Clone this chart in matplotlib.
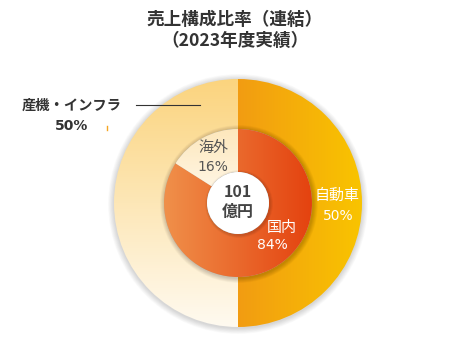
import numpy as np
import matplotlib.pyplot as plt
from matplotlib.patches import Wedge, Circle
from matplotlib.colors import LinearSegmentedColormap

plt.rcParams['font.family'] = ['Noto Sans CJK JP', 'DejaVu Sans']

# Data
title_lines = ['売上構成比率（連結）', '（2023年度実績）']
outer_labels = ['自動車', '産機・インフラ']
outer_values = [50, 50]
inner_labels = ['国内', '海外']
inner_values = [84, 16]
total_value = '101'
total_unit = '億円'

# Gradients per slice: (start colour, end colour, direction)
outer_grads = [('#f29c12', '#f9c400', 'h'), ('#fbd47e', '#fffaf0', 'v')]
inner_grads = [('#f0904a', '#e4420f', 'h'), ('#fde7bb', '#fff5e2', 'v')]

fig = plt.figure(figsize=(4.7, 3.4), dpi=100)
ax = fig.add_axes([0, 0, 1, 1])
ax.set_xlim(0, 470)
ax.set_ylim(340, 0)
ax.axis('off')

cx, cy = 238, 203
r_out, r_mid, r_in = 124, 74, 31


def grad_wedge(r, width, t1, t2, c0, c1, direction, z):
    # y axis is inverted, so flip angles to keep clockwise order on screen
    w = Wedge((cx, cy), r, -t2, -t1, width=width, facecolor='none',
              edgecolor='none')
    ax.add_patch(w)
    cmap = LinearSegmentedColormap.from_list('g', [c0, c1])
    g = np.linspace(0, 1, 256)
    arr = g[np.newaxis, :] if direction == 'h' else g[:, np.newaxis]
    ang = np.radians(np.linspace(-t2, -t1, 200))
    xs = np.concatenate([cx + r * np.cos(ang), cx + (r - width) * np.cos(ang)])
    ys = np.concatenate([cy + r * np.sin(ang), cy + (r - width) * np.sin(ang)])
    x0, x1, y0, y1 = xs.min(), xs.max(), ys.min(), ys.max()
    # row 0 at the top of the screen (smaller y)
    im = ax.imshow(arr, cmap=cmap, extent=[x0, x1, y1, y0], origin='upper',
                   aspect='auto', interpolation='bilinear', zorder=z)
    im.set_clip_path(w)


def draw_ring(values, grads, r, width, z):
    start = 90
    tot = sum(values)
    for v, (c0, c1, d) in zip(values, grads):
        end = start - 360 * v / tot
        grad_wedge(r, width, end, start, c0, c1, d, z)
        start = end


# soft shadows
for i in range(10):
    ax.add_patch(Circle((cx, cy + 1), r_out + 6 - i * 0.6,
                        color='#000000', alpha=0.014, zorder=1, lw=0))
for i in range(10):
    ax.add_patch(Circle((cx + 1, cy + 1), r_mid + 5 - i * 0.5,
                        color='#000000', alpha=0.02, zorder=3, lw=0))

draw_ring(outer_values, outer_grads, r_out, r_out - r_mid, 2)
draw_ring(inner_values, inner_grads, r_mid, r_mid - r_in, 4)

for i in range(6):
    ax.add_patch(Circle((cx + 1, cy + 1), r_in + 3 - i * 0.5,
                        color='#000000', alpha=0.025, zorder=5, lw=0))
ax.add_patch(Circle((cx, cy), r_in, color='white', zorder=6, lw=0))

# title
ax.text(235, 20, title_lines[0], ha='center', va='center', fontsize=12.7,
        fontweight='bold', color='#333333')
ax.text(235, 41, title_lines[1], ha='center', va='center', fontsize=12.7,
        fontweight='bold', color='#333333')

# center text
ax.text(cx, 192, total_value, ha='center', va='center', fontsize=11.5,
        fontweight='bold', color='#444444', zorder=7)
ax.text(cx, 212, total_unit, ha='center', va='center', fontsize=11.5,
        fontweight='bold', color='#444444', zorder=7)

pct_font = dict(family='DejaVu Sans', fontsize=10)

# outer labels
ax.text(337, 196, outer_labels[0], ha='center', va='center', fontsize=10.8,
        color='white', zorder=7)
ax.text(338, 216, f'{outer_values[0]}%', ha='center', va='center',
        color='white', zorder=7, **pct_font)
ax.text(72, 106, outer_labels[1], ha='center', va='center', fontsize=10.3,
        fontweight='bold', color='#333333')
ax.text(72, 126, f'{outer_values[1]}%', ha='center', va='center',
        fontweight='bold', color='#333333', **pct_font)
ax.plot([136, 200], [105, 105], color='#333333', lw=0.8, zorder=8)
ax.plot([107, 107], [126, 130], color='#f5a623', lw=1, zorder=8)

# inner labels
ax.text(282, 228, inner_labels[0], ha='center', va='center', fontsize=10.8,
        color='white', zorder=7)
ax.text(272, 245, f'{inner_values[0]}%', ha='center', va='center',
        color='white', zorder=7, **pct_font)
ax.text(213, 148, inner_labels[1], ha='center', va='center', fontsize=10.8,
        color='#555555', zorder=7)
ax.text(213, 167, f'{inner_values[1]}%', ha='center', va='center',
        color='#555555', zorder=7, **pct_font)

fig.savefig('out.png', dpi=100)
